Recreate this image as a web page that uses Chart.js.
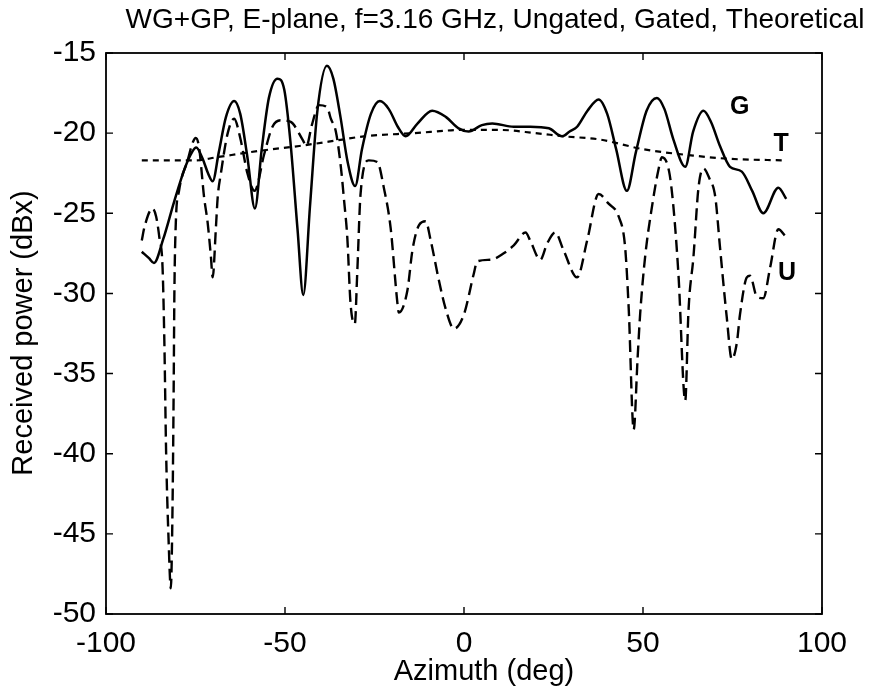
<!DOCTYPE html>
<html>
<head>
<meta charset="utf-8">
<title>WG+GP E-plane</title>
<script src="https://cdn.jsdelivr.net/npm/chart.js@4.4.1/dist/chart.umd.min.js"></script>
<style>
  html, body { margin: 0; padding: 0; background: #fff; }
  canvas { display: block; }
</style>
</head>
<body>
<canvas id="myChart" width="878" height="690"></canvas>
<script>
// Gated measurement (solid)
const gatedAz = [-90, -88, -86.6, -84, -81, -78, -76, -74.8, -73, -71.5, -70.2, -68.5, -66.5, -64.2, -62.5, -60.5, -58.4, -56.5, -54.5, -52.1, -50.2, -48.5, -46.5, -44.9, -43, -41, -38.3, -36.5, -34.5, -32.5, -30.4, -28.5, -26, -23.5, -21, -18.5, -16.3, -13, -8.9, -5, -1.5, 1.3, 5, 7.9, 13.9, 18.5, 23.7, 27.4, 29.5, 31.6, 34.5, 37.6, 40, 42.5, 45.5, 48, 51, 53.9, 56, 58.5, 61.8, 64, 66.9, 69, 71.5, 74.3, 77.6, 80.5, 83.6, 87.8, 90];
const gatedDb = [-27.4, -27.8, -28.1, -26.6, -24.3, -22.2, -21.2, -20.9, -21.6, -22.5, -23.0, -21.2, -19.0, -18.0, -18.8, -21.5, -24.7, -21.0, -17.8, -16.6, -17.3, -20.5, -26.0, -30.1, -24.5, -18.7, -15.8, -16.6, -19.0, -21.8, -23.3, -21.0, -18.8, -18.0, -18.5, -19.6, -20.2, -19.4, -18.6, -19.0, -19.7, -19.9, -19.5, -19.4, -19.6, -19.6, -19.7, -20.2, -19.9, -19.6, -18.6, -17.9, -18.8, -21.0, -23.6, -21.2, -18.6, -17.8, -18.5, -20.4, -22.1, -19.9, -18.6, -19.3, -20.8, -22.1, -22.4, -23.6, -25.0, -23.4, -24.1];

// Ungated measurement (dashed)
const ungatedAz = [-90, -89.3, -87, -86, -85.1, -84.2, -83.7, -83.2, -82.5, -81.9, -81.4, -81.1, -80.9, -80.5, -79.6, -77.2, -75.8, -74.9, -74, -72.6, -71.6, -70.7, -70.2, -69.3, -68.8, -67.9, -66, -64.2, -62.5, -60.5, -58.5, -55.8, -53.5, -51.2, -48.4, -45.1, -44, -42.5, -40.5, -38.2, -37.2, -35.8, -34.4, -33.5, -32.6, -31.7, -30.5, -29.8, -28.9, -26.6, -24.2, -22.4, -20.5, -18.6, -18.2, -15.8, -14.4, -12.6, -10.7, -9.3, -7, -5.2, -2.8, 0, 2.7, 3.7, 7.4, 11.1, 13.9, 17.2, 18.5, 21.3, 23.2, 25.5, 27.8, 31.6, 34.4, 37.6, 40.4, 43.2, 45, 46, 47.4, 48.5, 49.2, 50.6, 52.5, 54.3, 55.3, 57.3, 58.5, 59.9, 61.8, 62.7, 64.1, 65.5, 66.9, 68.5, 70.2, 71.5, 73.4, 74.8, 76.2, 77.1, 79, 79.9, 81.8, 83.6, 85.5, 87.8, 90];
const ungatedDb = [-26.7, -25.9, -24.7, -25.2, -26.5, -28.4, -33.0, -40.0, -45.5, -48.4, -43.0, -36.0, -30.0, -25.6, -23.6, -21.7, -20.6, -20.3, -20.9, -24.0, -25.6, -27.7, -29.0, -25.9, -24.0, -22.5, -20.0, -19.1, -20.3, -22.5, -23.6, -21.3, -19.6, -19.2, -19.3, -20.4, -20.8, -19.5, -18.25, -18.4, -19.1, -19.9, -22.1, -24.2, -26.5, -30.6, -31.9, -28.6, -23.8, -21.7, -21.8, -23.4, -25.9, -30.6, -31.2, -29.8, -27.3, -25.75, -25.5, -26.7, -29.2, -30.9, -32.2, -31.3, -28.8, -28.0, -27.9, -27.5, -27.0, -26.2, -26.7, -27.9, -26.9, -26.2, -27.3, -29.0, -26.7, -23.8, -24.4, -25.2, -27.1, -30.9, -38.5, -34.0, -31.3, -27.7, -24.6, -22.3, -21.5, -22.4, -24.6, -28.8, -36.7, -31.1, -27.7, -23.4, -22.2, -22.8, -24.0, -27.1, -31.5, -34.1, -33.1, -31.3, -29.0, -28.9, -30.2, -30.3, -28.4, -26.0, -26.5];

// Theoretical (dotted)
const theoAz = [-90, -75, -69, -57, -46, -34, -28, -14, 0, 10, 20, 28, 38, 50, 64, 74, 90];
const theoDb = [-21.7, -21.7, -21.5, -21.1, -20.8, -20.4, -20.2, -20.0, -19.8, -19.8, -20.0, -20.2, -20.4, -21.0, -21.4, -21.6, -21.7];

const xTicks = [-100, -50, 0, 50, 100];
const yTicks = [-50, -45, -40, -35, -30, -25, -20, -15];

const curveLabels = ['G', 'T', 'U'];
const curveLabelAz = [77, 88.6, 90.2];
const curveLabelDb = [-18.4, -20.7, -28.75];

const FONT = "'Liberation Sans', Arial, sans-serif";

function pts(xs, ys) { return xs.map((v, i) => ({ x: v, y: ys[i] })); }

const decor = {
  id: 'decor',
  afterDraw(chart) {
    const { ctx, chartArea: a, scales: { x, y } } = chart;
    ctx.save();
    ctx.strokeStyle = '#000';
    ctx.lineWidth = 1.8;
    ctx.strokeRect(a.left, a.top, a.width, a.height);
    ctx.lineWidth = 1.4;
    const tl = 7;
    ctx.beginPath();
    xTicks.forEach(v => {
      const px = x.getPixelForValue(v);
      ctx.moveTo(px, a.bottom); ctx.lineTo(px, a.bottom - tl);
      ctx.moveTo(px, a.top); ctx.lineTo(px, a.top + tl);
    });
    yTicks.forEach(v => {
      const py = y.getPixelForValue(v);
      ctx.moveTo(a.left, py); ctx.lineTo(a.left + tl, py);
      ctx.moveTo(a.right, py); ctx.lineTo(a.right - tl, py);
    });
    ctx.stroke();

    ctx.fillStyle = '#000';
    ctx.textAlign = 'center';
    ctx.textBaseline = 'middle';
    // curve tags
    ctx.font = 'bold 25px ' + FONT;
    curveLabels.forEach((t, i) => {
      ctx.fillText(t, x.getPixelForValue(curveLabelAz[i]), y.getPixelForValue(curveLabelDb[i]));
    });
    // title
    ctx.font = '28px ' + FONT;
    ctx.fillText('WG+GP, E-plane, f=3.16 GHz, Ungated, Gated, Theoretical', 495, 20);
    // x title
    ctx.font = '29px ' + FONT;
    ctx.fillText('Azimuth (deg)', 484, 672);
    // y title
    ctx.translate(24, 333);
    ctx.rotate(-Math.PI / 2);
    ctx.fillText('Received power (dBx)', 0, 0);
    ctx.restore();
  }
};

const ctx = document.getElementById('myChart').getContext('2d');
const myChart = new Chart(ctx, {
  type: 'line',
  data: {
    datasets: [
      {
        label: 'Ungated',
        data: pts(ungatedAz, ungatedDb),
        borderColor: '#000',
        borderWidth: 2.4,
        borderDash: [12, 6],
        cubicInterpolationMode: 'monotone',
        pointRadius: 0
      },
      {
        label: 'Gated',
        data: pts(gatedAz, gatedDb),
        borderColor: '#000',
        borderWidth: 2.5,
        cubicInterpolationMode: 'monotone',
        pointRadius: 0
      },
      {
        label: 'Theoretical',
        data: pts(theoAz, theoDb),
        borderColor: '#000',
        borderWidth: 2.2,
        borderDash: [6, 5],
        cubicInterpolationMode: 'monotone',
        pointRadius: 0
      }
    ]
  },
  options: {
    responsive: false,
    animation: false,
    devicePixelRatio: 1,
    layout: { padding: { top: 53, right: 56, bottom: 0, left: 0 } },
    plugins: { legend: { display: false }, tooltip: { enabled: false }, title: { display: false } },
    scales: {
      x: {
        type: 'linear',
        min: -100, max: 100,
        afterBuildTicks: s => { s.ticks = xTicks.map(v => ({ value: v })); },
        afterFit: s => { s.height = 76; },
        grid: { display: false, drawTicks: false },
        border: { display: false },
        ticks: { color: '#000', font: { family: FONT, size: 30 }, padding: 12, maxRotation: 0 }
      },
      y: {
        type: 'linear',
        min: -50, max: -15,
        afterBuildTicks: s => { s.ticks = yTicks.map(v => ({ value: v })); },
        afterFit: s => { s.width = 106; },
        grid: { display: false, drawTicks: false },
        border: { display: false },
        ticks: { color: '#000', font: { family: FONT, size: 30 }, padding: 10 }
      }
    }
  },
  plugins: [decor]
});
</script>
</body>
</html>
